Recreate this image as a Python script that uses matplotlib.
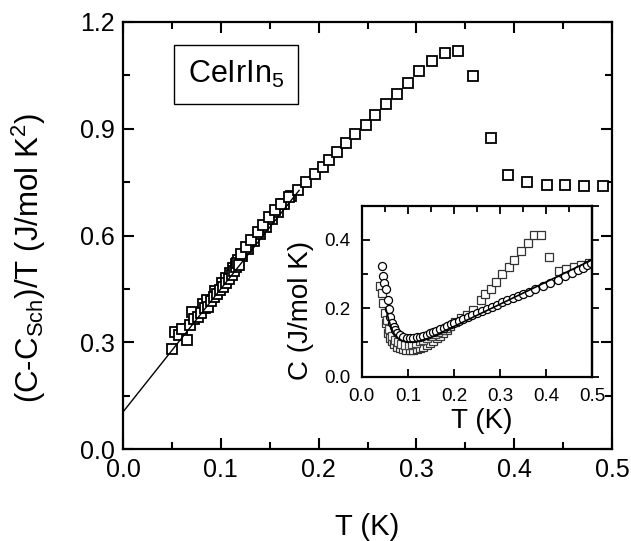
import numpy as np
import matplotlib.pyplot as plt
from matplotlib.ticker import MultipleLocator

plt.rcParams['font.family'] = ['Liberation Sans', 'DejaVu Sans']
plt.rcParams['mathtext.default'] = 'regular'

# main panel: (C - C_Sch)/T vs T
main_T = [0.050, 0.053, 0.057, 0.060, 0.065, 0.068, 0.070, 0.073, 0.077, 0.080,
          0.084, 0.087, 0.090, 0.093, 0.096, 0.099, 0.102, 0.105, 0.108, 0.111,
          0.113, 0.115, 0.117, 0.119, 0.121, 0.126, 0.131, 0.138, 0.143, 0.149,
          0.155, 0.162, 0.170, 0.179, 0.187, 0.196, 0.204, 0.211, 0.219, 0.228,
          0.237, 0.248, 0.258, 0.269, 0.280, 0.291, 0.303, 0.316, 0.329, 0.342,
          0.358, 0.376, 0.394, 0.413, 0.433, 0.452, 0.471, 0.491]
main_v = [0.283, 0.330, 0.322, 0.339, 0.306, 0.350, 0.386, 0.367, 0.372, 0.382,
          0.396, 0.400, 0.415, 0.428, 0.436, 0.446, 0.455, 0.468, 0.478, 0.490,
          0.500, 0.512, 0.523, 0.518, 0.549, 0.568, 0.587, 0.610, 0.629, 0.652,
          0.671, 0.688, 0.708, 0.729, 0.750, 0.772, 0.792, 0.813, 0.836, 0.860,
          0.884, 0.911, 0.939, 0.970, 0.998, 1.029, 1.061, 1.091, 1.113, 1.119,
          1.047, 0.873, 0.771, 0.751, 0.742, 0.742, 0.739, 0.739]
# second run, slightly offset
main2_T = [0.082, 0.086, 0.094, 0.101, 0.105, 0.109, 0.112, 0.115, 0.118,
           0.122, 0.128, 0.134, 0.140, 0.146, 0.152, 0.158, 0.165, 0.172]
main2_v = [0.408, 0.420, 0.445, 0.468, 0.480, 0.494, 0.508, 0.520, 0.532,
           0.542, 0.562, 0.584, 0.604, 0.625, 0.646, 0.665, 0.688, 0.712]
fit_T = [0.0, 0.18]
fit_v = [0.105, 0.727]

# inset: C vs T
in_circ_T = [0.045, 0.047, 0.049, 0.053, 0.056, 0.059, 0.062, 0.065, 0.069, 0.072,
             0.077, 0.083, 0.090, 0.098, 0.105, 0.112, 0.120, 0.127, 0.134, 0.141,
             0.148, 0.155, 0.162, 0.170, 0.178, 0.186, 0.193, 0.200, 0.210, 0.220,
             0.230, 0.240, 0.250, 0.260, 0.271, 0.282, 0.293, 0.304, 0.315, 0.327,
             0.338, 0.350, 0.362, 0.376, 0.392, 0.409, 0.425, 0.440, 0.455, 0.468,
             0.479, 0.489, 0.497]
in_circ_C = [0.325, 0.295, 0.274, 0.256, 0.223, 0.198, 0.176, 0.157, 0.145, 0.137,
             0.128, 0.122, 0.116, 0.113, 0.112, 0.113, 0.115, 0.117, 0.120, 0.123,
             0.127, 0.131, 0.135, 0.139, 0.143, 0.149, 0.153, 0.158, 0.163, 0.169,
             0.175, 0.181, 0.186, 0.192, 0.198, 0.204, 0.211, 0.217, 0.223, 0.229,
             0.236, 0.242, 0.249, 0.256, 0.264, 0.275, 0.284, 0.293, 0.302, 0.311,
             0.318, 0.326, 0.331]
in_sq_T = [0.040, 0.043, 0.047, 0.051, 0.053, 0.058, 0.062, 0.065, 0.070, 0.076,
           0.083, 0.090, 0.097, 0.105, 0.112, 0.120, 0.127, 0.134, 0.141, 0.148,
           0.155, 0.163, 0.170, 0.177, 0.184, 0.192, 0.203, 0.215, 0.228, 0.241,
           0.259, 0.268, 0.280, 0.292, 0.304, 0.319, 0.331, 0.346, 0.360, 0.373,
           0.388, 0.406, 0.427, 0.444, 0.460, 0.476, 0.492]
in_sq_C = [0.264, 0.245, 0.215, 0.186, 0.157, 0.127, 0.112, 0.103, 0.095, 0.088,
           0.083, 0.080, 0.079, 0.078, 0.079, 0.080, 0.084, 0.088, 0.093, 0.098,
           0.105, 0.113, 0.120, 0.127, 0.136, 0.147, 0.161, 0.173, 0.181, 0.196,
           0.225, 0.243, 0.257, 0.277, 0.300, 0.321, 0.340, 0.367, 0.391, 0.413,
           0.415, 0.351, 0.308, 0.315, 0.320, 0.327, 0.333]
in_sq2_T = [0.055, 0.060, 0.066, 0.072, 0.079, 0.086, 0.094, 0.102, 0.110, 0.118,
            0.126, 0.134, 0.142, 0.150, 0.158, 0.166, 0.174, 0.182]
in_sq2_C = [0.165, 0.140, 0.120, 0.108, 0.100, 0.096, 0.094, 0.094, 0.096, 0.099,
            0.103, 0.108, 0.113, 0.119, 0.125, 0.131, 0.137, 0.143]
in_fit_T = [0.052, 0.056, 0.060, 0.065, 0.070, 0.080, 0.090, 0.100, 0.120, 0.150,
            0.200, 0.300, 0.400, 0.500]
in_fit_C = [0.200, 0.180, 0.160, 0.140, 0.126, 0.111, 0.104, 0.101, 0.102, 0.115,
            0.147, 0.212, 0.277, 0.342]

fig = plt.figure(figsize=(6.31, 5.41), dpi=100)
ax = fig.add_axes([0.195, 0.1695, 0.775, 0.79])

ax.plot(fit_T, fit_v, color='k', lw=1.0, zorder=3)
ax.plot(main2_T, main2_v, 's', ms=7, mfc='white', mec='k', mew=1.3, zorder=2)
ax.plot(main_T, main_v, 's', ms=7, mfc='white', mec='k', mew=1.3, zorder=2, clip_on=False)

ax.set_xlim(0, 0.5)
ax.set_ylim(0, 1.2)
ax.xaxis.set_major_locator(MultipleLocator(0.1))
ax.xaxis.set_minor_locator(MultipleLocator(0.05))
ax.yaxis.set_major_locator(MultipleLocator(0.3))
ax.yaxis.set_minor_locator(MultipleLocator(0.15))
ax.tick_params(which='both', direction='in', top=True, right=True, width=1.5)
ax.tick_params(which='major', length=8, labelsize=18, pad=6)
ax.tick_params(which='minor', length=5)
for s in ax.spines.values():
    s.set_linewidth(1.6)
ax.set_xlabel('T (K)', fontsize=21)
ax.xaxis.set_label_coords(0.5, -0.148)
ax.set_ylabel('(C-C$_{Sch}$)/T (J/mol K$^2$)', fontsize=22.5)
ax.yaxis.set_label_coords(-0.153, 0.447)

ax.text(0.231, 0.877, 'CeIrIn$_5$', transform=ax.transAxes, fontsize=22,
        ha='center', va='center',
        bbox=dict(boxstyle='square,pad=0.45', fc='white', ec='k', lw=1.0))

# inset
axi = fig.add_axes([0.5732, 0.3037, 0.3655, 0.3161])
axi.plot(in_sq_T, in_sq_C, 's', ms=5.5, mfc='white', mec='#333333', mew=0.9)
axi.plot(in_sq2_T, in_sq2_C, 's', ms=5.5, mfc='white', mec='#444444', mew=0.9)
axi.plot(in_circ_T, in_circ_C, 'o', ms=5.8, mfc='white', mec='k', mew=0.9)
axi.plot(in_fit_T, in_fit_C, color='k', lw=1.2)
axi.set_xlim(0, 0.5)
axi.set_ylim(0, 0.5)
axi.xaxis.set_major_locator(MultipleLocator(0.1))
axi.xaxis.set_minor_locator(MultipleLocator(0.05))
axi.yaxis.set_major_locator(MultipleLocator(0.2))
axi.yaxis.set_minor_locator(MultipleLocator(0.1))
axi.tick_params(which='both', direction='in', top=True, width=1.3)
axi.tick_params(which='minor', bottom=False, length=4)
axi.tick_params(which='major', length=6, labelsize=13.5, pad=8)
sec = axi.secondary_yaxis('right')
sec.yaxis.set_major_locator(MultipleLocator(0.1))
sec.tick_params(direction='out', length=5, width=1.3, labelright=False)
sec.spines['right'].set_linewidth(1.6)
for s in axi.spines.values():
    s.set_linewidth(1.6)
axi.set_xlabel('T (K)', fontsize=20)
axi.xaxis.set_label_coords(0.52, -0.185)
axi.set_ylabel('C (J/mol K)', fontsize=20)
axi.yaxis.set_label_coords(-0.207, 0.39)

fig.savefig('out.png', dpi=100)
